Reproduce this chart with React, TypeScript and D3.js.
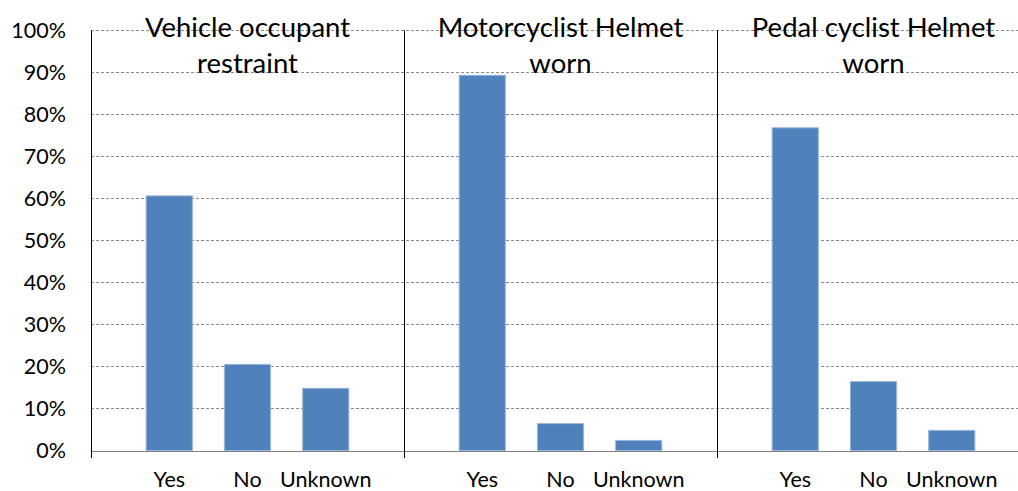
import React from "react";
import * as d3 from "d3";

const groups = ["Vehicle occupant restraint", "Motorcyclist Helmet worn", "Pedal cyclist Helmet worn"];
const groupTitleLines = [
  ["Vehicle occupant", "restraint"],
  ["Motorcyclist Helmet", "worn"],
  ["Pedal cyclist Helmet", "worn"],
];
const categories = ["Yes", "No", "Unknown"];
const vehicleValues = [0.606, 0.205, 0.148];
const motorcyclistValues = [0.893, 0.064, 0.024];
const pedalValues = [0.768, 0.164, 0.048];
const yTicks = [0, 0.1, 0.2, 0.3, 0.4, 0.5, 0.6, 0.7, 0.8, 0.9, 1.0];

const seriesByGroup = [vehicleValues, motorcyclistValues, pedalValues];

export default function App() {
  const W = 1018;
  const H = 491;
  const left = 91;
  const right = 1030;
  const top = 30.3;
  const bottom = 450.5;

  // 13 slot positions: separator, Yes, No, Unknown, separator, ...
  const slotKeys: string[] = [];
  groups.forEach((g, gi) => {
    slotKeys.push(`sep${gi}`);
    categories.forEach((c) => slotKeys.push(`${gi}-${c}`));
  });
  slotKeys.push(`sep${groups.length}`);

  const x = d3.scalePoint<string>().domain(slotKeys).range([left, right]);
  const step = x.step();
  const barW = step * 0.59;
  const y = d3.scaleLinear().domain([0, 1]).range([bottom, top]);
  const fmt = d3.format(".0%");

  const font = "Lato, 'Open Sans', sans-serif";

  return (
    <div style={{ position: "absolute", left: 0, top: 0 }}>
      <svg width={W} height={H} style={{ display: "block", background: "#fff" }}>
        {/* gridlines */}
        {yTicks.slice(1).map((t) => (
          <line
            key={`g${t}`}
            x1={left}
            x2={right}
            y1={Math.round(y(t)) + 0.5}
            y2={Math.round(y(t)) + 0.5}
            stroke="#8c8c8c"
            strokeWidth={1}
            strokeDasharray="3,2"
          />
        ))}
        {/* bars */}
        {groups.map((g, gi) =>
          categories.map((c, ci) => {
            const v = seriesByGroup[gi][ci];
            const cx = x(`${gi}-${c}`) as number;
            return (
              <rect
                key={`${gi}-${c}`}
                x={cx - barW / 2}
                y={y(v)}
                width={barW}
                height={bottom - y(v)}
                fill="#4f81bd"
                stroke="#9bb7dc"
                strokeWidth={1}
              />
            );
          })
        )}
        {/* x axis baseline */}
        <line x1={left} x2={right} y1={Math.round(bottom) + 0.5} y2={Math.round(bottom) + 0.5} stroke="#7f7f7f" strokeWidth={1.2} />
        {/* separators and left axis */}
        {d3.range(groups.length + 1).map((i) => {
          const sx = Math.round(x(`sep${i}`) as number) + 0.5;
          return (
            <line key={`s${i}`} x1={sx} x2={sx} y1={top} y2={458} stroke="#000" strokeWidth={1} />
          );
        })}
        {/* y tick labels */}
        {yTicks.map((t) => (
          <text
            key={`yt${t}`}
            x={66}
            y={y(t)}
            dy="0.36em"
            textAnchor="end"
            fontFamily={font}
            fontSize={21.5}
            fill="#000"
          >
            {fmt(t)}
          </text>
        ))}
        {/* category labels */}
        {groups.map((g, gi) =>
          categories.map((c) => (
            <text
              key={`cl${gi}-${c}`}
              x={x(`${gi}-${c}`) as number}
              y={487}
              textAnchor="middle"
              fontFamily={font}
              fontSize={21.5}
              fill="#000"
            >
              {c}
            </text>
          ))
        )}
        {/* group titles */}
        {groups.map((g, gi) => {
          const cx = ((x(`sep${gi}`) as number) + (x(`sep${gi + 1}`) as number)) / 2;
          return (
            <text key={`t${gi}`} textAnchor="middle" fontFamily={font} fontSize={27.5} fill="#000">
              {groupTitleLines[gi].map((line, li) => (
                <tspan key={li} x={cx} y={37 + li * 36}>
                  {line}
                </tspan>
              ))}
            </text>
          );
        })}
      </svg>
    </div>
  );
}
